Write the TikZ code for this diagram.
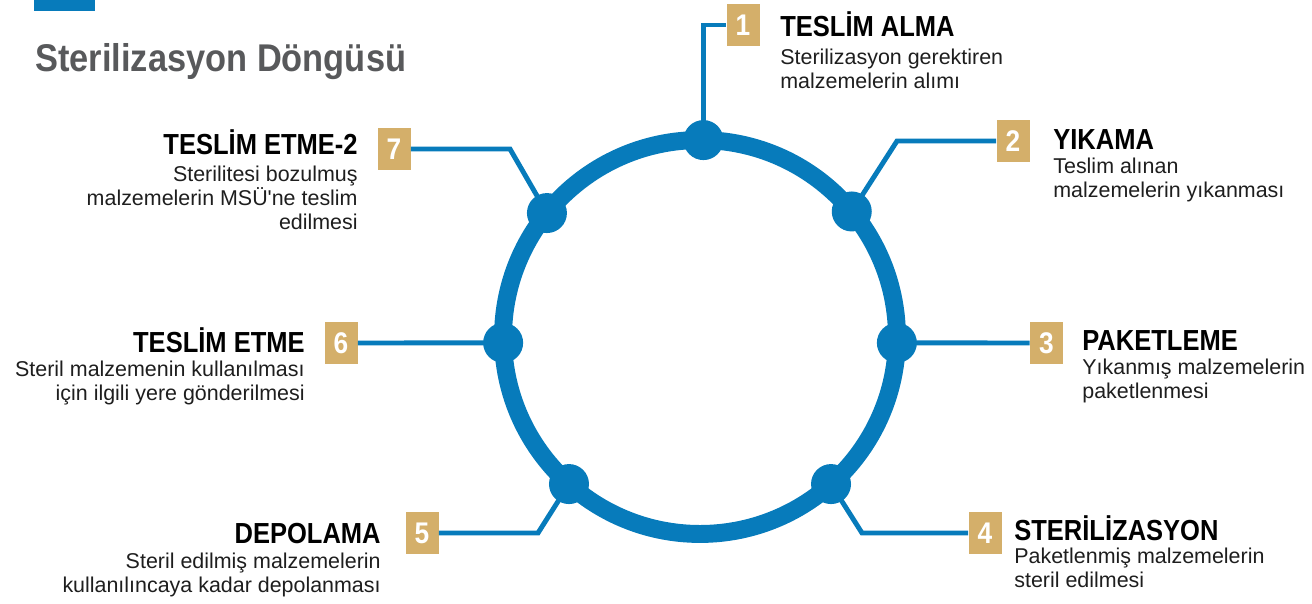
\documentclass[tikz,border=0pt]{standalone}
\usepackage{fontspec}
\setmainfont{Liberation Sans}
\newfontfamily\headfont[FakeStretch=0.88]{Liberation Sans}
\newfontfamily\titlefont[FakeStretch=0.89]{Liberation Sans}
\usetikzlibrary{positioning,calc}
\definecolor{cycblue}{HTML}{077BBB}
\definecolor{numgold}{HTML}{D4AF6A}
\definecolor{titlegray}{HTML}{58595B}
\definecolor{textdark}{HTML}{1E1E1E}

\begin{document}
\begin{tikzpicture}[
        x=0.02cm, y=-0.02cm,
        ring/.style={draw=cycblue, line width=10.2pt},
        dot/.style={circle, fill=cycblue, minimum size=0.8cm, inner sep=0pt},
        link/.style={draw=cycblue, line width=2.8pt},
        numbox/.style={fill=numgold, minimum width=0.66cm, minimum height=0.84cm, inner sep=0pt, text=white, font=\headfont\bfseries\fontsize{17}{19}\selectfont},
        head/.style={inner sep=0pt, text=black, font=\headfont\bfseries\fontsize{16.5}{18}\selectfont},
        body/.style={inner sep=0pt, text=textdark, font=\fontsize{12.2}{13.6}\selectfont}
    ]
    \useasboundingbox (0,0) rectangle (1312,603);

    % Title
    \fill[cycblue] (34,0) rectangle (95,11);
    \node[inner sep=0pt, anchor=base west, text=titlegray, font=\titlefont\bfseries\fontsize{22}{24}\selectfont] (title) at (35,71.5) {Sterilizasyon Döngüsü};

    % Ring
    \coordinate (c) at (700,337);
    \draw[ring] (c) circle[radius=3.94cm];

    % Dots
    \node[dot] (dot1) at ($(c)+(89:3.94cm)$) {};
    \node[dot] (dot2) at ($(c)+(39.6:3.94cm)$) {};
    \node[dot] (dot3) at ($(c)+(-1.7:3.94cm)$) {};
    \node[dot] (dot4) at ($(c)+(-48.3:3.94cm)$) {};
    \node[dot] (dot5) at ($(c)+(228.3:3.94cm)$) {};
    \node[dot] (dot6) at ($(c)+(181.7:3.94cm)$) {};
    \node[dot] (dot7) at ($(c)+(141:3.94cm)$) {};

    % Number boxes
    \node[numbox] (box1) at (743,25) {1};
    \node[numbox] (box2) at (1013,141) {2};
    \node[numbox] (box3) at (1046.5,343) {3};
    \node[numbox] (box4) at (985,533) {4};
    \node[numbox] (box5) at (422,533) {5};
    \node[numbox] (box6) at (341,343) {6};
    \node[numbox] (box7) at (394,149) {7};

    % Connectors
    \draw[link] (dot1.center) |- (box1.west);
    \draw[link] (dot2.center) -- (897,141) -- (box2.west);
    \draw[link] (dot3.center) -- (box3.west);
    \draw[link] (dot4.center) -- (862,533) -- (box4.west);
    \draw[link] (dot5.center) -- (538,533) -- (box5.east);
    \draw[link] (dot6.center) -- (box6.east);
    \draw[link] (dot7.center) -- (510,149) -- (box7.east);

    % Right side texts (body anchored on its last line)
    \node[head, anchor=base west] (h1) at (780,36) {TESLİM ALMA};
    \node[body, align=left, anchor=base west] (d1) at (780,88) {Sterilizasyon gerektiren\\malzemelerin alımı};
    \node[head, anchor=base west] (h2) at (1053,149) {YIKAMA};
    \node[body, align=left, anchor=base west] (d2) at (1053,197) {Teslim alınan\\malzemelerin yıkanması};
    \node[head, anchor=base west] (h3) at (1082,350) {PAKETLEME};
    \node[body, align=left, anchor=base west] (d3) at (1082,398) {Yıkanmış malzemelerin\\paketlenmesi};
    \node[head, anchor=base west] (h4) at (1014,540) {STERİLİZASYON};
    \node[body, align=left, anchor=base west] (d4) at (1014,587) {Paketlenmiş malzemelerin\\steril edilmesi};

    % Left side texts
    \node[head, anchor=base east] (h5) at (381,543) {DEPOLAMA};
    \node[body, align=right, anchor=base east] (d5) at (381,592) {Steril edilmiş malzemelerin\\kullanılıncaya kadar depolanması};
    \node[head, anchor=base east] (h6) at (305,352) {TESLİM ETME};
    \node[body, align=right, anchor=base east] (d6) at (305,400) {Steril malzemenin kullanılması\\için ilgili yere gönderilmesi};
    \node[head, anchor=base east] (h7) at (358,154) {TESLİM ETME-2};
    \node[body, align=right, anchor=base east] (d7) at (358,229) {Sterilitesi bozulmuş\\malzemelerin MSÜ\textquotesingle ne teslim\\edilmesi};
\end{tikzpicture}
\end{document}
